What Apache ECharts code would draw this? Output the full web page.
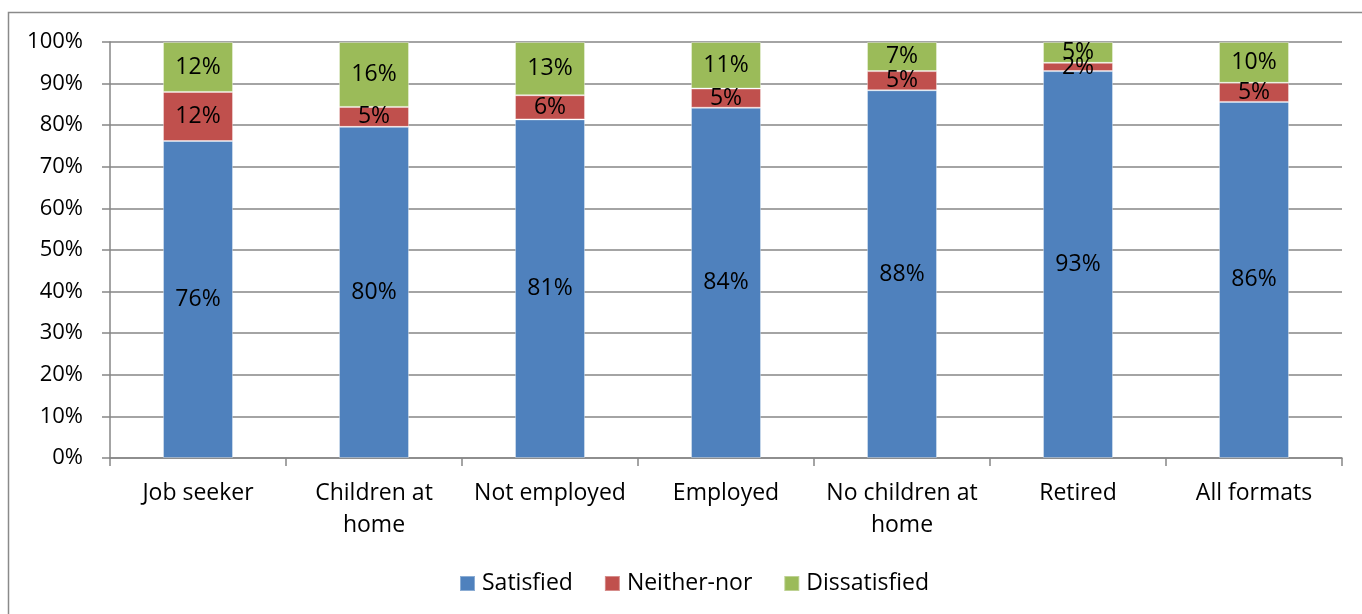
<!DOCTYPE html>
<html>
<head>
<meta charset="utf-8">
<script src="https://cdn.jsdelivr.net/npm/echarts@6/dist/echarts.min.js"></script>
<style>
html,body{margin:0;padding:0;background:#fff;}
#chart{width:1362px;height:614px;}
</style>
</head>
<body>
<div id="chart"></div>
<script>
const categories = ["Job seeker", "Children at\nhome", "Not employed", "Employed", "No children at\nhome", "Retired", "All formats"];
const satisfied = [76.2, 79.6, 81.4, 84.2, 88.4, 93.0, 85.6];
const neitherNor = [11.8, 4.8, 5.8, 4.6, 4.6, 2.0, 4.6];
const dissatisfied = [12.0, 15.6, 12.8, 11.2, 7.0, 5.0, 9.8];
const seriesNames = ["Satisfied", "Neither-nor", "Dissatisfied"];
const colors = ["#4F81BD", "#C0504D", "#9BBB59"];

const FONT = "Open Sans";
const chart = echarts.init(document.getElementById('chart'), null, {renderer: 'canvas'});
const lbl = {
  show: true, position: 'inside', color: '#000', fontFamily: FONT, fontSize: 23,
  formatter: p => Math.round(p.value) + '%'
};
function mk(name, data, color) {
  return {
    name, type: 'bar', stack: 'total', data, barWidth: 70,
    itemStyle: {color, borderColor: 'rgba(255,255,255,0.35)', borderWidth: 1},
    label: lbl, emphasis: {disabled: true}
  };
}
chart.setOption({
  animation: false,
  backgroundColor: '#fff',
  textStyle: {fontFamily: FONT},
  graphic: [{type: 'rect', shape: {x: 8.5, y: 12.5, width: 1400, height: 700}, style: {fill: 'none', stroke: '#8a8a8a', lineWidth: 1.5}, z: -10}],
  grid: {left: 110, right: 20, top: 42, bottom: 156},
  legend: {
    top: 567, left: 454, itemWidth: 15, itemHeight: 15, itemGap: 31,
    icon: 'rect',
    textStyle: {color: '#000', fontFamily: FONT, fontSize: 23, padding: [0, 0, 0, 2]},
    data: seriesNames
  },
  xAxis: {
    type: 'category', data: categories,
    axisLine: {lineStyle: {color: '#868686', width: 1.5}},
    axisTick: {show: true, length: 8, lineStyle: {color: '#868686', width: 1.5}},
    axisLabel: {color: '#000', fontFamily: FONT, fontSize: 23, margin: 19, lineHeight: 32, interval: 0}
  },
  yAxis: {
    type: 'value', min: 0, max: 100, interval: 10,
    axisLine: {show: true, lineStyle: {color: '#868686', width: 1.5}},
    axisTick: {show: true, length: 8, lineStyle: {color: '#868686', width: 1.5}},
    axisLabel: {color: '#000', fontFamily: FONT, fontSize: 22, margin: 27, formatter: '{value}%'},
    splitLine: {lineStyle: {color: '#868686', width: 1.5}}
  },
  series: [
    mk(seriesNames[0], satisfied, colors[0]),
    mk(seriesNames[1], neitherNor, colors[1]),
    mk(seriesNames[2], dissatisfied, colors[2])
  ]
});
</script>
</body>
</html>
